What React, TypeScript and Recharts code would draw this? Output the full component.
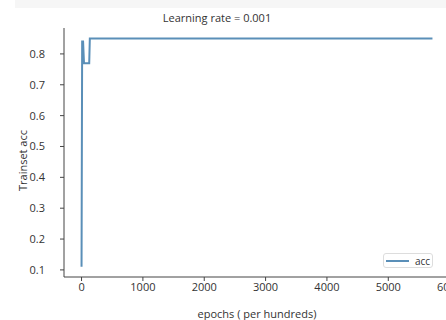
import React from "react";
import { LineChart, Line, XAxis, YAxis, Legend } from "recharts";

const epochs = [0, 10, 25, 40, 125, 135, 5720];
const accValues = [0.11, 0.84, 0.84, 0.77, 0.77, 0.85, 0.85];
const xTicks = [0, 1000, 2000, 3000, 4000, 5000, 6000];
const yTicks = [0.1, 0.2, 0.3, 0.4, 0.5, 0.6, 0.7, 0.8];
const titleText = "Learning rate = 0.001";
const xLabel = "epochs ( per hundreds)";
const yLabel = "Trainset acc";
const seriesName = "acc";

const data = epochs.map((e, i) => ({ epoch: e, acc: accValues[i] }));

const FONT = "'Open Sans', 'Noto Sans', sans-serif";
const TXT = "#333";
const AXIS = "#444";
const LINE = "#5a8fb8";

const LegendBox = () => (
  <div
    style={{
      position: "absolute",
      left: 383,
      top: 253,
      width: 50,
      height: 15,
      background: "#fff",
      border: "1px solid #ddd",
      borderRadius: 3,
      boxSizing: "border-box",
      display: "flex",
      alignItems: "center",
      fontFamily: FONT,
      fontSize: 10,
      color: TXT,
    }}
  >
    <div style={{ width: 23, height: 2, background: LINE, marginLeft: 2, marginRight: 6 }} />
    <span>{seriesName}</span>
  </div>
);

const YLabel = (props: any) => {
  const vb = props.viewBox || { y: 28, height: 249 };
  const cx = 22;
  const cy = vb.y + vb.height / 2 + 8;
  return (
    <text
      x={cx}
      y={cy}
      transform={`rotate(-90 ${cx} ${cy})`}
      textAnchor="middle"
      dominantBaseline="central"
      fontFamily={FONT}
      fontSize={11}
      fill={TXT}
    >
      {yLabel}
    </text>
  );
};

const XLabel = (props: any) => {
  const vb = props.viewBox || { x: 64, width: 386 };
  return (
    <text
      x={257}
      y={313}
      textAnchor="middle"
      dominantBaseline="central"
      fontFamily={FONT}
      fontSize={11}
      fill={TXT}
    >
      {xLabel}
    </text>
  );
};

export default function App() {
  return (
    <div
      style={{
        position: "absolute",
        left: 0,
        top: 0,
        width: 446,
        height: 320,
        overflow: "hidden",
        background: "#fff",
      }}
    >
      <div style={{ position: "absolute", left: 15, top: 0, width: 431, height: 8, background: "#f6f6f6" }} />
      <div
        style={{
          position: "absolute",
          left: 0,
          width: 434,
          top: 11,
          textAlign: "center",
          fontFamily: FONT,
          fontSize: 11,
          color: TXT,
          lineHeight: "14px",
        }}
      >
        {titleText}
      </div>
      <LineChart
        width={460}
        height={320}
        data={data}
        margin={{ top: 28, right: 10, bottom: 0, left: 0 }}
        style={{ position: "absolute", left: 0, top: 0 }}
      >
        <XAxis
          dataKey="epoch"
          type="number"
          domain={[-286, 6006]}
          ticks={xTicks}
          allowDataOverflow
          height={43}
          tickSize={4}
          tickMargin={2}
          stroke={AXIS}
          tickLine={{ stroke: AXIS }}
          axisLine={{ stroke: AXIS }}
          tick={{ fill: TXT, fontSize: 11, fontFamily: FONT }}
          interval={0}
          label={<XLabel />}
        />
        <XAxis
          xAxisId="top"
          orientation="top"
          type="number"
          domain={[-286, 6006]}
          height={0}
          tick={false}
          tickLine={false}
          axisLine={{ stroke: AXIS }}
        />
        <YAxis
          type="number"
          domain={[0.077, 0.884]}
          ticks={yTicks}
          allowDataOverflow
          width={64}
          tickSize={4}
          tickMargin={15}
          stroke={AXIS}
          tickLine={{ stroke: AXIS }}
          axisLine={{ stroke: AXIS }}
          tick={{ fill: TXT, fontSize: 11, fontFamily: FONT }}
          tickFormatter={(v: number) => v.toFixed(1)}
          interval={0}
          label={<YLabel />}
        />
        <Line
          type="linear"
          dataKey="acc"
          name={seriesName}
          stroke={LINE}
          strokeWidth={2}
          dot={false}
          isAnimationActive={false}
        />
        <Legend content={<LegendBox />} wrapperStyle={{ position: "absolute", left: 0, top: 0, width: 0, height: 0 }} />
      </LineChart>
    </div>
  );
}
